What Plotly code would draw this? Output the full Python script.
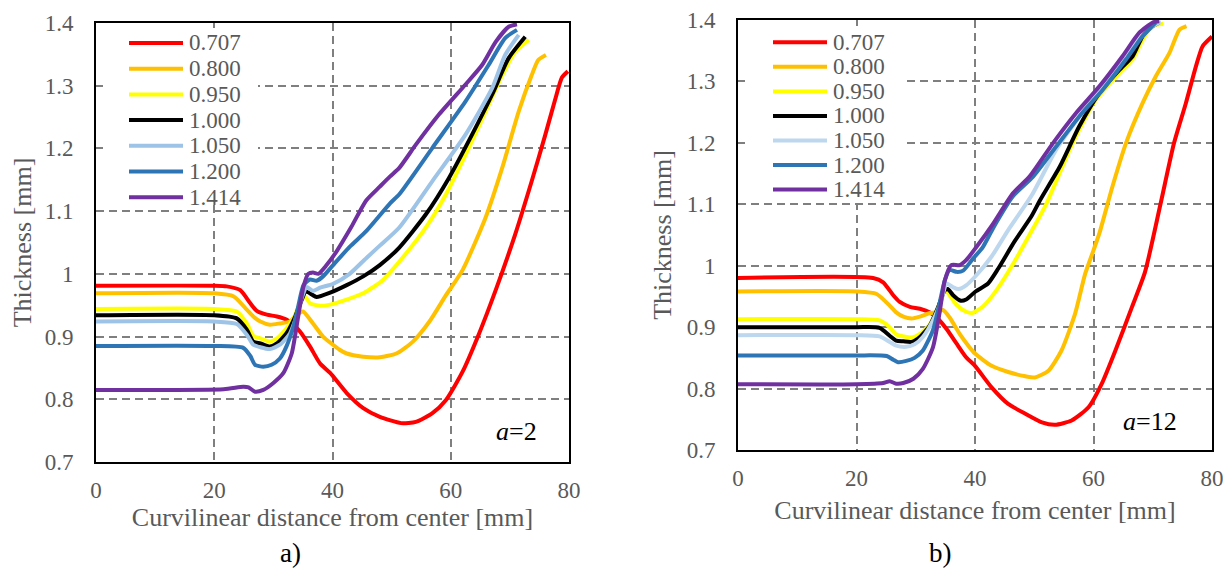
import plotly.graph_objects as go

# ---------------- data ----------------
labels = ["0.707", "0.800", "0.950", "1.000", "1.050", "1.200", "1.414"]
colors_a = ["#FF0000", "#FFC000", "#FFFF00", "#000000", "#9DC3E6", "#2E75B6", "#7030A0"]
colors_b = ["#FF0000", "#FFC000", "#FFFF00", "#000000", "#BDD7EE", "#2E75B6", "#7030A0"]

# panel a) (a=2)
a_x_0707 = [0, 20, 22.1, 24.4, 26.1, 27.2, 28.9, 30.6, 32.2, 33.4, 34.5, 36.2, 37.9, 39.6, 42.4, 45.2, 48, 51.6, 54.1, 56.9, 59.2, 62, 64.8, 67.6, 70.9, 73.7, 76, 77.6, 78.8, 79.8]
a_y_0707 = [0.981, 0.981, 0.98, 0.974, 0.953, 0.941, 0.935, 0.932, 0.927, 0.919, 0.908, 0.884, 0.857, 0.842, 0.81, 0.786, 0.772, 0.762, 0.764, 0.778, 0.799, 0.844, 0.905, 0.974, 1.063, 1.148, 1.222, 1.276, 1.313, 1.323]
a_x_0800 = [0, 20, 23.3, 25.5, 26.6, 27.8, 29.4, 31.1, 32.8, 34.0, 35, 36.7, 38.4, 41.2, 42.4, 45.2, 48, 50.8, 53.6, 56.4, 59.2, 62, 65.9, 68.7, 71.5, 73.7, 74.8, 76.1]
a_y_0800 = [0.969, 0.969, 0.964, 0.943, 0.932, 0.924, 0.919, 0.921, 0.924, 0.935, 0.94, 0.921, 0.9, 0.879, 0.873, 0.868, 0.867, 0.873, 0.892, 0.924, 0.966, 1.006, 1.09, 1.169, 1.259, 1.317, 1.341, 1.349]
a_x_0950 = [0, 20, 23.8, 25.5, 26.6, 27.8, 29.4, 30.6, 32.2, 33.4, 34.5, 35.3, 36.2, 37.9, 39.6, 42.4, 45.2, 48.5, 52.4, 55.8, 59.2, 62.5, 65.9, 68.7, 70.9, 73.2]
a_y_0950 = [0.944, 0.944, 0.94, 0.921, 0.901, 0.897, 0.892, 0.897, 0.913, 0.929, 0.953, 0.964, 0.953, 0.949, 0.951, 0.959, 0.969, 0.99, 1.032, 1.074, 1.127, 1.19, 1.259, 1.317, 1.354, 1.373]
a_x_1000 = [0, 20, 23.8, 25.5, 26.6, 27.8, 29.4, 30.6, 32.2, 33.7, 34.8, 35.5, 36.5, 37.3, 39.6, 42.4, 45.2, 48, 51.3, 55.8, 59.7, 63.6, 67, 69.8, 72.6]
a_y_1000 = [0.934, 0.934, 0.929, 0.911, 0.892, 0.889, 0.884, 0.889, 0.905, 0.932, 0.959, 0.972, 0.967, 0.963, 0.97, 0.982, 0.996, 1.014, 1.042, 1.095, 1.153, 1.222, 1.286, 1.344, 1.378]
a_x_1050 = [0, 20, 23.8, 25.5, 26.6, 27.8, 29.4, 31.1, 32.8, 33.9, 34.9, 35.6, 36.7, 37.9, 40.1, 42.9, 45.7, 48, 51.3, 56.9, 62.5, 67, 69.2, 71.5]
a_y_1050 = [0.924, 0.924, 0.92, 0.903, 0.887, 0.883, 0.88, 0.887, 0.905, 0.932, 0.964, 0.979, 0.973, 0.978, 0.984, 1.0, 1.025, 1.045, 1.074, 1.148, 1.222, 1.296, 1.349, 1.381]
a_x_1200 = [0, 20, 24.9, 26.1, 26.9, 28.3, 29.7, 31.1, 32.2, 33.4, 34.2, 35.1, 36.2, 37.3, 38.4, 40.1, 42.9, 45.7, 49.7, 51.3, 56.9, 62.5, 66.4, 69.2, 71.2]
a_y_1200 = [0.885, 0.885, 0.882, 0.869, 0.855, 0.852, 0.855, 0.865, 0.884, 0.916, 0.948, 0.982, 0.991, 0.989, 0.996, 1.014, 1.043, 1.068, 1.112, 1.127, 1.201, 1.275, 1.333, 1.376, 1.389]
a_x_1414 = [0, 21.6, 24.9, 25.8, 26.9, 28.3, 30, 31.7, 33.1, 34.2, 35.1, 35.9, 36.7, 37.6, 39, 40.7, 43.2, 45.7, 48, 49.7, 51.3, 54.1, 58, 62.5, 65.3, 67.6, 69.8, 71.2]
a_y_1414 = [0.815, 0.816, 0.82, 0.819, 0.812, 0.815, 0.826, 0.842, 0.873, 0.932, 0.98, 1.0, 1.002, 1.0, 1.014, 1.036, 1.075, 1.117, 1.139, 1.155, 1.169, 1.206, 1.254, 1.302, 1.333, 1.37, 1.394, 1.398]

# panel b) (a=12)
b_x_0707 = [0, 22.8, 24.5, 26.2, 27.3, 29, 30.7, 32.4, 33.5, 35.2, 36.9, 38.5, 40, 42.8, 45.6, 48.5, 51.3, 53.5, 56.3, 59.2, 61.4, 63.7, 66.5, 68.7, 71.3, 73.6, 75.6, 77.3, 78.4, 80]
b_y_0707 = [0.98, 0.98, 0.973, 0.952, 0.941, 0.933, 0.93, 0.924, 0.916, 0.897, 0.873, 0.851, 0.837, 0.802, 0.775, 0.759, 0.745, 0.741, 0.748, 0.77, 0.808, 0.862, 0.933, 0.99, 1.1, 1.2, 1.265, 1.325, 1.357, 1.373]
b_x_0800 = [0, 20, 23.4, 25.6, 26.7, 27.9, 29.3, 30.7, 32.4, 33.5, 34.6, 35.7, 37.4, 39.1, 40, 42.8, 45.6, 48.5, 50.1, 52.4, 54.6, 56.9, 58.6, 60, 61, 63.2, 65.5, 68.3, 70.5, 72.8, 74.5, 75.7]
b_y_0800 = [0.958, 0.958, 0.954, 0.935, 0.924, 0.917, 0.914, 0.917, 0.923, 0.924, 0.928, 0.916, 0.889, 0.867, 0.857, 0.837, 0.827, 0.82, 0.818, 0.829, 0.862, 0.922, 0.987, 1.025, 1.053, 1.129, 1.2, 1.265, 1.308, 1.346, 1.384, 1.39]
b_x_0950 = [0, 20, 23.9, 25.6, 26.7, 27.9, 29.3, 30.7, 32.4, 33.8, 34.9, 35.4, 36.9, 38.5, 39.5, 41.4, 43.7, 46.5, 49.3, 52, 56.5, 60.4, 64.4, 66.6, 68.3, 70, 71.8]
b_y_0950 = [0.913, 0.913, 0.911, 0.9, 0.888, 0.885, 0.883, 0.889, 0.905, 0.933, 0.96, 0.956, 0.936, 0.925, 0.923, 0.934, 0.961, 1.004, 1.052, 1.1, 1.2, 1.27, 1.314, 1.336, 1.368, 1.39, 1.394]
b_x_1000 = [0, 20, 23.9, 25.6, 26.7, 27.9, 29.3, 30.7, 32.4, 33.8, 34.9, 35.4, 36.3, 37.6, 38.5, 40.1, 42.2, 43.9, 46.7, 49.5, 51, 54.3, 57.6, 61, 64.4, 66.6, 68.3, 70, 71.1]
b_y_1000 = [0.9, 0.9, 0.899, 0.886, 0.878, 0.877, 0.876, 0.884, 0.903, 0.933, 0.96, 0.962, 0.952, 0.943, 0.945, 0.958, 0.971, 0.995, 1.04, 1.08, 1.107, 1.161, 1.227, 1.281, 1.319, 1.341, 1.374, 1.39, 1.396]
b_x_1050 = [0, 20, 23.9, 25.6, 26.7, 28.4, 29.8, 31.2, 32.9, 34.3, 35.2, 36.3, 37.2, 38.5, 40, 42.8, 45.6, 49.6, 53.7, 57.6, 61, 64.9, 67.7, 70, 71.4]
b_y_1050 = [0.887, 0.887, 0.885, 0.876, 0.87, 0.868, 0.872, 0.884, 0.911, 0.943, 0.971, 0.965, 0.962, 0.968, 0.982, 1.015, 1.058, 1.115, 1.189, 1.243, 1.287, 1.33, 1.368, 1.39, 1.397]
b_x_1200 = [0, 20, 25.1, 26.2, 27, 28.4, 29.8, 31.2, 32.9, 34, 34.9, 35.7, 36.9, 38, 39.7, 41.3, 43.1, 46.4, 49.8, 53.7, 57.6, 61.6, 65.5, 68.3, 70.5]
b_y_1200 = [0.854, 0.854, 0.853, 0.847, 0.843, 0.845, 0.85, 0.862, 0.895, 0.938, 0.976, 0.993, 0.99, 0.992, 1.012, 1.03, 1.062, 1.113, 1.145, 1.194, 1.243, 1.287, 1.336, 1.374, 1.396]
b_x_1414 = [0, 20, 24.5, 25.6, 26.7, 27.9, 29.6, 31.2, 32.9, 34, 34.9, 36, 37.4, 38.5, 40.2, 43.1, 46.4, 49.2, 53.2, 57.1, 61, 64.9, 67.7, 70, 71.1]
b_y_1414 = [0.807, 0.807, 0.809, 0.812, 0.808, 0.809, 0.816, 0.832, 0.867, 0.922, 0.976, 1.001, 1.001, 1.009, 1.03, 1.069, 1.118, 1.145, 1.2, 1.249, 1.292, 1.341, 1.379, 1.396, 1.398]

x_ticks = [0, 20, 40, 60, 80]
y_ticks = [0.7, 0.8, 0.9, 1.0, 1.1, 1.2, 1.3, 1.4]
y_ticktext = ["0.7", "0.8", "0.9", "1", "1.1", "1.2", "1.3", "1.4"]
x_title = "Curvilinear distance from center [mm]"
y_title = "Thickness [mm]"

series_a = [(a_x_0707, a_y_0707), (a_x_0800, a_y_0800), (a_x_0950, a_y_0950), (a_x_1000, a_y_1000),
            (a_x_1050, a_y_1050), (a_x_1200, a_y_1200), (a_x_1414, a_y_1414)]
series_b = [(b_x_0707, b_y_0707), (b_x_0800, b_y_0800), (b_x_0950, b_y_0950), (b_x_1000, b_y_1000),
            (b_x_1050, b_y_1050), (b_x_1200, b_y_1200), (b_x_1414, b_y_1414)]

# ---------------- layout helpers ----------------
FONT = "Liberation Serif, Times New Roman, serif"
GRAY = "#595959"
PAGE_MARGIN = 8          # default body margin of the page
FW, FH = 1231 - PAGE_MARGIN, 569 - PAGE_MARGIN


def px_x(p):
    return (p - PAGE_MARGIN) / FW


def px_y(p):
    return 1 - (p - PAGE_MARGIN) / FH


fig = go.Figure()
for (xs, ys), lab, col in zip(series_a, labels, colors_a):
    fig.add_trace(go.Scatter(x=xs, y=ys, name=lab, mode="lines", showlegend=False,
                             line=dict(color=col, width=4, shape="spline", smoothing=0.6),
                             xaxis="x", yaxis="y"))
for (xs, ys), lab, col in zip(series_b, labels, colors_b):
    fig.add_trace(go.Scatter(x=xs, y=ys, name=lab, mode="lines", showlegend=False,
                             line=dict(color=col, width=4, shape="spline", smoothing=0.6),
                             xaxis="x2", yaxis="y2"))

axis_common = dict(
    automargin=False, ticklabeloverflow="allow",
    showline=True, mirror=True, linecolor="black", linewidth=2,
    showgrid=True, gridcolor="#7F7F7F", gridwidth=1.5, griddash="8px,5px",
    zeroline=False, ticks="", tickfont=dict(family=FONT, size=23, color=GRAY),
)


def x_axis(title_standoff):
    return dict(axis_common, range=[0, 80], tickvals=x_ticks, ticklabelstandoff=6,
                title=dict(text=x_title, font=dict(family=FONT, size=26, color=GRAY),
                           standoff=title_standoff))


ya = dict(axis_common, range=[0.7, 1.4], tickvals=y_ticks, ticktext=y_ticktext,
          ticklabelstandoff=16,
          title=dict(text=y_title, font=dict(family=FONT, size=26, color=GRAY), standoff=8))

# ---------------- legends (drawn as keys inside each panel) ----------------
shapes = []
annotations = []
legend_specs = [
    # (box x0, box x1, box y0, box y1, line x0, line x1, first y, step, colors)
    (103, 258, 28, 205, 129, 183, 43.0, 25.7, colors_a),
    (745, 903, 26, 203, 773, 827, 42.3, 24.55, colors_b),
]
for bx0, bx1, by0, by1, lx0, lx1, y0, step, cols in legend_specs:
    shapes.append(dict(type="rect", xref="paper", yref="paper", layer="above",
                       x0=px_x(bx0), x1=px_x(bx1), y0=px_y(by1), y1=px_y(by0),
                       fillcolor="white", line=dict(width=0)))
    for i, (lab, col) in enumerate(zip(labels, cols)):
        yy = y0 + i * step
        shapes.append(dict(type="line", xref="paper", yref="paper", layer="above",
                           x0=px_x(lx0), x1=px_x(lx1), y0=px_y(yy), y1=px_y(yy),
                           line=dict(color=col, width=4)))
        annotations.append(dict(text=lab, x=px_x(lx1 + 4), y=px_y(yy), xref="paper", yref="paper",
                                xanchor="left", yanchor="middle", showarrow=False,
                                font=dict(family=FONT, size=23, color=GRAY)))

annotations += [
    dict(text="<i>a</i>=2", x=71.2, y=0.748, xref="x", yref="y", showarrow=False,
         font=dict(family=FONT, size=26, color="black")),
    dict(text="<i>a</i>=12", x=69.6, y=0.747, xref="x2", yref="y2", showarrow=False,
         font=dict(family=FONT, size=26, color="black")),
    dict(text="a)", x=px_x(290), y=px_y(553), xref="paper", yref="paper", showarrow=False,
         xanchor="center", yanchor="middle", font=dict(family=FONT, size=27, color="black")),
    dict(text="b)", x=px_x(940), y=px_y(553), xref="paper", yref="paper", showarrow=False,
         xanchor="center", yanchor="middle", font=dict(family=FONT, size=27, color="black")),
]

fig.update_layout(
    template="none",
    width=FW, height=FH, autosize=False,
    margin=dict(l=0, r=0, t=0, b=0, pad=0),
    paper_bgcolor="white", plot_bgcolor="white",
    showlegend=False,
    xaxis=dict(x_axis(2), domain=[px_x(96), px_x(569)], anchor="y"),
    yaxis=dict(ya, domain=[px_y(462), px_y(23)], anchor="x"),
    xaxis2=dict(x_axis(11), domain=[px_x(738), px_x(1212)], anchor="y2"),
    yaxis2=dict(ya, domain=[px_y(450), px_y(20)], anchor="x2"),
    shapes=shapes,
    annotations=annotations,
)

fig.write_html("out.html", config={"displayModeBar": False})
